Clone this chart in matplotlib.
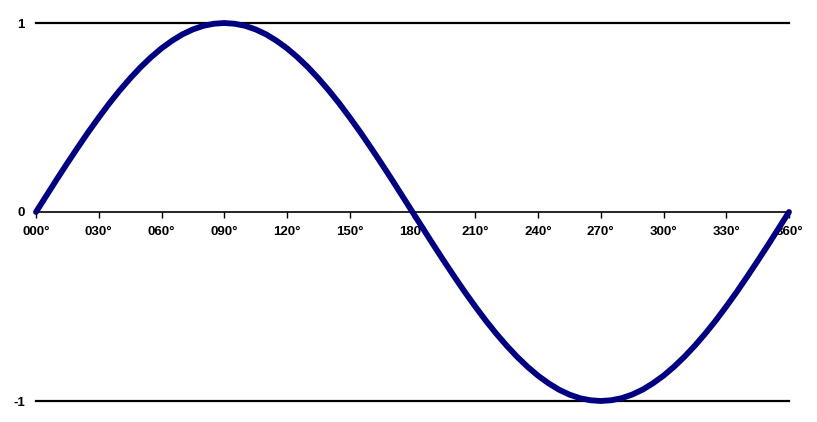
import matplotlib
matplotlib.use("Agg")
import matplotlib.pyplot as plt

# Angles (degrees) and curve values
angles = list(range(0, 361, 5))
values = [0.000, 0.087, 0.174, 0.259, 0.342, 0.423, 0.500, 0.574, 0.643, 0.707,
          0.766, 0.819, 0.866, 0.906, 0.940, 0.966, 0.985, 0.996, 1.000, 0.996,
          0.985, 0.966, 0.940, 0.906, 0.866, 0.819, 0.766, 0.707, 0.643, 0.574,
          0.500, 0.423, 0.342, 0.259, 0.174, 0.087, 0.000, -0.087, -0.174, -0.259,
          -0.342, -0.423, -0.500, -0.574, -0.643, -0.707, -0.766, -0.819, -0.866, -0.906,
          -0.940, -0.966, -0.985, -0.996, -1.000, -0.996, -0.985, -0.966, -0.940, -0.906,
          -0.866, -0.819, -0.766, -0.707, -0.643, -0.574, -0.500, -0.423, -0.342, -0.259,
          -0.174, -0.087, 0.000]

x_ticks = list(range(0, 361, 30))
x_labels = ["000°", "030°", "060°", "090°", "120°", "150°", "180°",
            "210°", "240°", "270°", "300°", "330°", "360°"]
y_ticks = [-1, 0, 1]
y_labels = ["-1", "0", "1"]

plt.rcParams['font.family'] = ['Liberation Sans', 'DejaVu Sans']

fig = plt.figure(figsize=(8.17, 4.22), dpi=100)
ax = fig.add_axes([36/817, 21/422, 753/817, 378/422])
ax.set_xlim(0, 360)
ax.set_ylim(-1, 1)

for yv in (1, -1):
    ax.axhline(yv, color='black', lw=1.6, clip_on=False, zorder=1)

ax.plot(angles, values, color='#000080', lw=4.2, solid_capstyle='round', zorder=3, clip_on=False)

for s in ('top', 'right', 'left'):
    ax.spines[s].set_visible(False)
ax.spines['bottom'].set_position(('data', 0))
ax.spines['bottom'].set_linewidth(1.2)
ax.spines['bottom'].set_zorder(2)

ax.set_xticks(x_ticks)
ax.set_xticklabels(x_labels, fontsize=9.5, fontweight='bold')
ax.tick_params(axis='x', direction='out', length=4, width=1, pad=6)
ax.set_yticks(y_ticks)
ax.set_yticklabels(y_labels, fontsize=9.5, fontweight='bold')
ax.tick_params(axis='y', length=0, pad=8)

fig.savefig("out.png", dpi=100)
